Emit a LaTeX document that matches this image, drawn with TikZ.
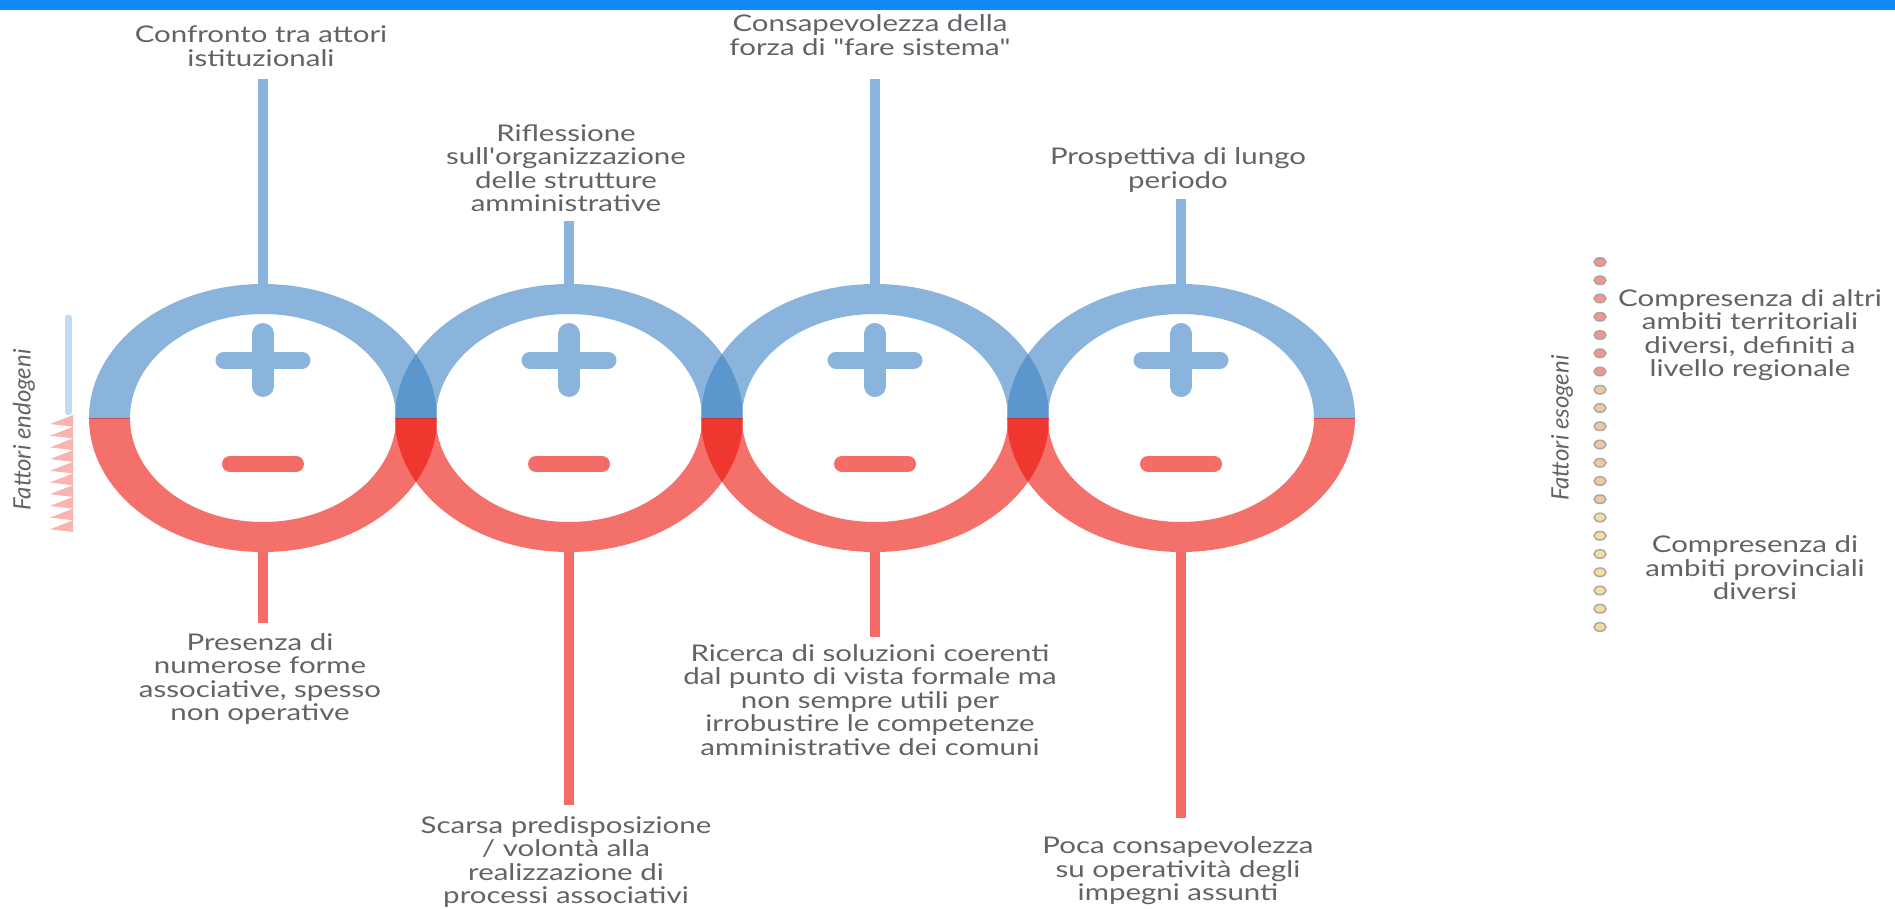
\documentclass[tikz,border=0pt]{standalone}
\usepackage{fontspec}
\setmainfont{Lato}
\definecolor{barblue}{RGB}{18,137,245}
\definecolor{ringblue}{RGB}{60,130,195}
\definecolor{ringred}{RGB}{237,17,7}
\definecolor{signblue}{RGB}{138,180,219}
\definecolor{signred}{RGB}{244,108,104}
\definecolor{txtgray}{RGB}{98,98,104}
\definecolor{paleblue}{RGB}{195,218,240}
\definecolor{palepink}{RGB}{250,180,175}
\definecolor{dotred}{RGB}{244,148,144}
\definecolor{dottan}{RGB}{240,200,160}
\definecolor{dotyellow}{RGB}{244,222,156}
\begin{document}
\begin{tikzpicture}[x=1pt,y=-1pt,
    lbl/.style={text=txtgray,align=center,inner sep=0pt,xscale=1.28,font=\fontsize{23}{23.5}\selectfont},
    side/.style={text=txtgray,inner sep=0pt,rotate=90,font=\fontsize{24}{24}\selectfont\itshape},
    stemup/.style={signblue,line width=10pt},
    stemdown/.style={signred,line width=10pt},
    dot/.style={draw=gray!70,line width=1.4pt}]

    \useasboundingbox (0,0) rectangle (1895,909);
    \fill[barblue] (0,0) rectangle (1895,10);

    % rings
    \foreach \cx [count=\i] in {263,569,875,1181}{
        \coordinate (top\i) at (\cx,284);
        \coordinate (bot\i) at (\cx,552);
        \begin{scope}
            \clip (\cx-180,418) rectangle (\cx+180,270);
            \fill[ringblue,fill opacity=0.6,even odd rule] (\cx,418) ellipse[x radius=174,y radius=134] (\cx,418) ellipse[x radius=133,y radius=104];
        \end{scope}
        \begin{scope}
            \clip (\cx-180,418) rectangle (\cx+180,570);
            \fill[ringred,fill opacity=0.6,even odd rule] (\cx,418) ellipse[x radius=174,y radius=134] (\cx,418) ellipse[x radius=133,y radius=104];
        \end{scope}
        \draw[signblue,line width=17pt,line cap=round] (\cx-39,360) -- (\cx+39,360);
        \draw[signblue,line width=22pt,line cap=round] (\cx,334) -- (\cx,386);
        \draw[signred,line width=16pt,line cap=round] (\cx-33,464) -- (\cx+33,464);
    }

    % labels above
    \node[lbl] (t1) at (261,46) {Confronto tra attori\\istituzionali};
    \node[lbl] (t2) at (566,168) {Riflessione\\sull\textquotesingle organizzazione\\delle strutture\\amministrative};
    \node[lbl] (t3) at (870,35) {Consapevolezza della\\forza di \textquotedbl fare sistema\textquotedbl};
    \node[lbl] (t4) at (1178,170) {Prospettiva di lungo\\periodo};

    % labels below
    \node[lbl] (b1) at (260,679) {Presenza di\\numerose forme\\associative, spesso\\non operative};
    \node[lbl] (b2) at (566,862) {Scarsa predisposizione\\/ volontà alla\\realizzazione di\\processi associativi};
    \node[lbl] (b3) at (870,700) {Ricerca di soluzioni coerenti\\dal punto di vista formale ma\\non sempre utili per\\irrobustire le competenze\\amministrative dei comuni};
    \node[lbl] (b4) at (1178,871) {Poca consapevolezza\\su operatività degli\\impegni assunti};

    \coordinate (s1) at (263,79);
    \coordinate (s2) at (569,221);
    \coordinate (s3) at (875,79);
    \coordinate (s4) at (1181,199);
    \coordinate (e1) at (263,623);
    \coordinate (e2) at (569,805);
    \coordinate (e3) at (875,637);
    \coordinate (e4) at (1181,818);
    \foreach \i in {1,...,4}{
        \draw[stemup] (s\i) -- (top\i);
        \draw[stemdown] (bot\i) -- (e\i);
    }

    % endogenous side
    \node[side] (endo) at (24,430) {Fattori endogeni};
    \draw[paleblue,line width=7pt,line cap=round] (68,318) -- (68,412);
    \foreach \k in {0,...,9}
        \fill[palepink] (73,415+11.7*\k) -- (50,415+11.7*\k+9) -- (73,415+11.7*\k+11.7) -- cycle;

    % exogenous side
    \node[side] (eso) at (1562,428) {Fattori esogeni};
    \foreach \k in {0,...,6}
        \filldraw[dot,fill=dotred] (1600,262+18.25*\k) ellipse[x radius=6,y radius=4.3];
    \foreach \k in {7,...,13}
        \filldraw[dot,fill=dottan] (1600,262+18.25*\k) ellipse[x radius=6,y radius=4.3];
    \foreach \k in {14,...,20}
        \filldraw[dot,fill=dotyellow] (1600,262+18.25*\k) ellipse[x radius=6,y radius=4.3];
    \node[lbl] (r1) at (1750,335) {Compresenza di altri\\ambiti territoriali\\diversi, definiti a\\livello regionale};
    \node[lbl] (r2) at (1755,568) {Compresenza di\\ambiti provinciali\\diversi};
\end{tikzpicture}
\end{document}
